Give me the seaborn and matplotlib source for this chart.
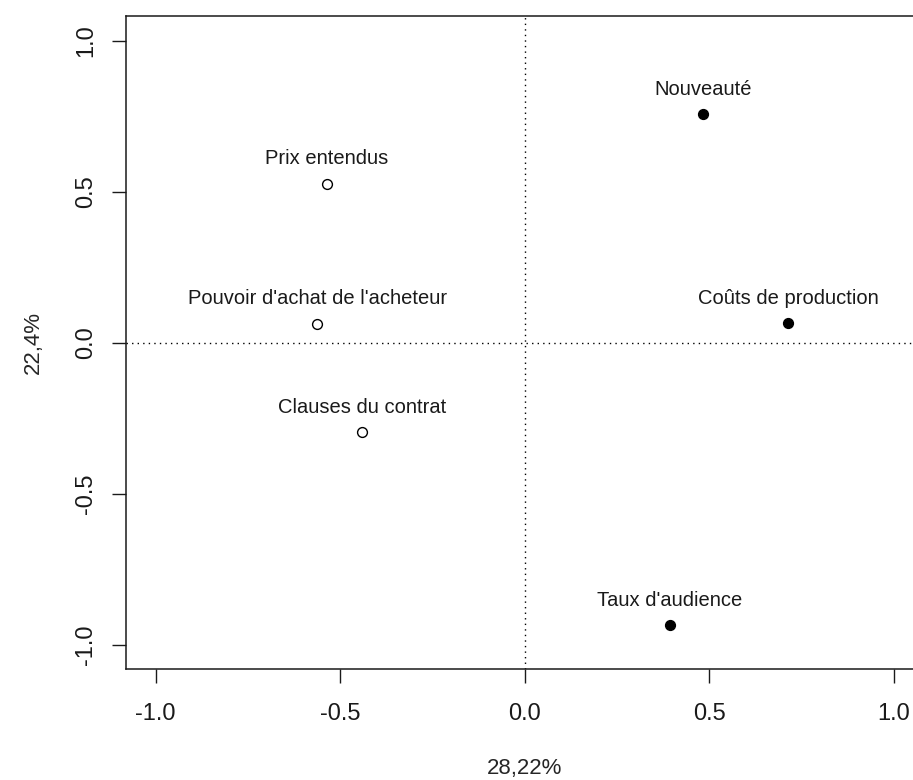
import matplotlib
matplotlib.use("Agg")
import matplotlib.pyplot as plt
import seaborn as sns
import pandas as pd

# Data
labels = ["Nouveauté", "Coûts de production", "Taux d'audience",
          "Prix entendus", "Pouvoir d'achat de l'acheteur", "Clauses du contrat"]
dim1 = [0.483, 0.714, 0.393, -0.535, -0.562, -0.440]
dim2 = [0.756, 0.066, -0.935, 0.527, 0.063, -0.295]
filled = [True, True, True, False, False, False]
ticks = [-1.0, -0.5, 0.0, 0.5, 1.0]

df = pd.DataFrame({"label": labels, "x": dim1, "y": dim2, "filled": filled})

sns.set_style("ticks")
plt.rcParams["font.family"] = ["Liberation Sans", "DejaVu Sans"]

fig = plt.figure(figsize=(9.13, 7.8), dpi=100)
ax = fig.add_axes([0.138, 0.142, 0.873, 0.837])

ax.axhline(0, color="black", linestyle=(0, (1, 3)), linewidth=1)
ax.axvline(0, color="black", linestyle=(0, (1, 3)), linewidth=1)

sns.scatterplot(data=df[df["filled"]], x="x", y="y", ax=ax, color="black",
                edgecolor="black", s=50, linewidth=1, marker="o")
sns.scatterplot(data=df[~df["filled"]], x="x", y="y", ax=ax, facecolor="white",
                edgecolor="black", s=50, linewidth=1, marker="o")

for _, r in df.iterrows():
    ax.annotate(r["label"], (r["x"], r["y"]), xytext=(0, 11), textcoords="offset points",
                ha="center", va="bottom", fontsize=14.5, color="#1a1a1a")

ax.set_xlim(-1.08, 1.08)
ax.set_ylim(-1.08, 1.08)
ax.set_xticks(ticks)
ax.set_yticks(ticks)
ax.set_xticklabels([f"{t:.1f}" for t in ticks], fontsize=17)
ax.set_yticklabels([f"{t:.1f}" for t in ticks], fontsize=17, rotation=90, va="center")
ax.tick_params(direction="out", length=10, width=1, colors="#1a1a1a")
ax.tick_params(axis="x", pad=14)
ax.tick_params(axis="y", pad=11)
for sp in ax.spines.values():
    sp.set_visible(True)
    sp.set_linewidth(1.1)
    sp.set_color("#1a1a1a")

ax.set_xlabel("28,22%", fontsize=16, labelpad=24)
ax.set_ylabel("22,4%", fontsize=16, labelpad=22)

fig.savefig("out.png", dpi=100)
